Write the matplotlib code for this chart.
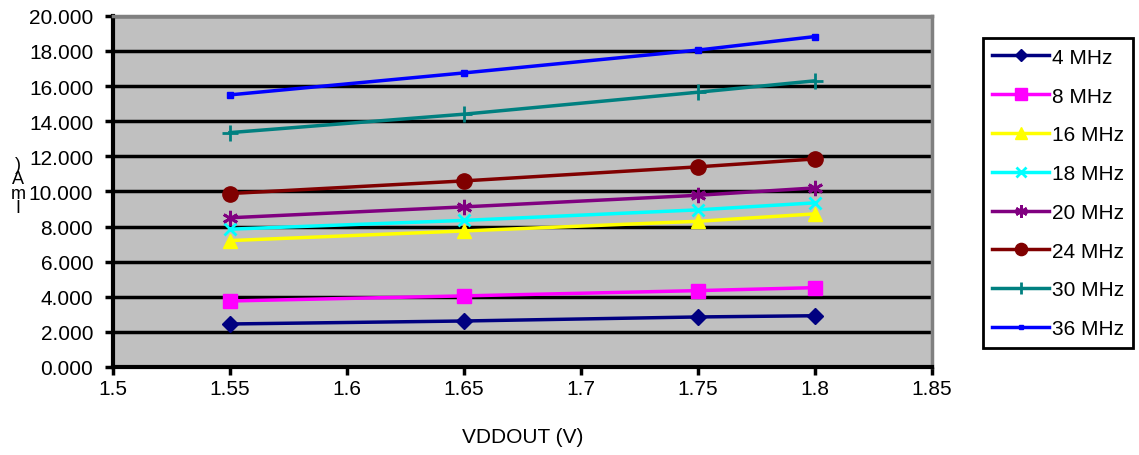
import matplotlib.pyplot as plt

plt.rcParams['font.family'] = ['Liberation Sans', 'DejaVu Sans']

vdd = [1.55, 1.65, 1.75, 1.8]
labels = ['4 MHz', '8 MHz', '16 MHz', '18 MHz', '20 MHz', '24 MHz', '30 MHz', '36 MHz']
i_4 = [2.45, 2.62, 2.85, 2.92]
i_8 = [3.76, 4.05, 4.35, 4.52]
i_16 = [7.2, 7.75, 8.3, 8.72]
i_18 = [7.85, 8.35, 8.95, 9.35]
i_20 = [8.5, 9.12, 9.78, 10.2]
i_24 = [9.88, 10.6, 11.4, 11.85]
i_30 = [13.35, 14.4, 15.65, 16.3]
i_36 = [15.5, 16.75, 18.05, 18.82]
xticks = [1.5, 1.55, 1.6, 1.65, 1.7, 1.75, 1.8, 1.85]
yticks = [0, 2, 4, 6, 8, 10, 12, 14, 16, 18, 20]

series = [i_4, i_8, i_16, i_18, i_20, i_24, i_30, i_36]
colors = ['#000080', '#FF00FF', '#FFFF00', '#00FFFF', '#800080', '#800000', '#008080', '#0000FF']
markers = ['D', 's', '^', 'x', (6, 2, 0), 'o', '+', 's']
msizes = [8, 10, 10, 9, 11, 11, 11, 4]

fig = plt.figure(figsize=(11.39, 4.56), dpi=100)
ax = fig.add_axes([0.0992, 0.193, 0.7188, 0.770])
ax.set_facecolor('#C0C0C0')

for y, c, m, ms, lab in zip(series, colors, markers, msizes, labels):
    mew = 2 if m in ('x', '+', (6, 2, 0)) else 1
    ax.plot(vdd, y, color=c, marker=m, markersize=ms, markeredgewidth=mew,
            linewidth=2.5, label=lab, zorder=3)

ax.set_xlim(1.5, 1.85)
ax.set_ylim(0, 20)
ax.set_xticks(xticks)
ax.set_xticklabels([('%g' % v) for v in xticks])
ax.set_yticks(yticks)
ax.set_yticklabels(['%.3f' % v for v in yticks])
ax.yaxis.grid(True, color='black', linewidth=2.5, zorder=1)
ax.set_axisbelow(True)
ax.tick_params(axis='both', direction='out', length=5.8, width=2.5, labelsize=15)
ax.tick_params(axis='y', pad=8.5)
ax.tick_params(axis='x', pad=3)

for s in ('left', 'bottom'):
    ax.spines[s].set_color('black')
    ax.spines[s].set_linewidth(3)
for s in ('top', 'right'):
    ax.spines[s].set_color('#808080')
    ax.spines[s].set_linewidth(2.5)

ax.set_xlabel('VDDOUT (V)', fontsize=15, labelpad=21)
fig.text(0.016, 0.59, ')\nA\nm\nI', fontsize=13, ha='center', va='center', linespacing=0.8)

leg = fig.legend(loc='center', bbox_to_anchor=(0.929, 0.5746), fontsize=15,
                 labelspacing=0.95, handlelength=2.7, handletextpad=0.15,
                 borderpad=0.45, fancybox=False, edgecolor='black', framealpha=1)
leg.get_frame().set_linewidth(2)
for h in leg.legend_handles:
    h.set_markersize(h.get_markersize() * 0.8)

fig.savefig('out.png', dpi=100)
